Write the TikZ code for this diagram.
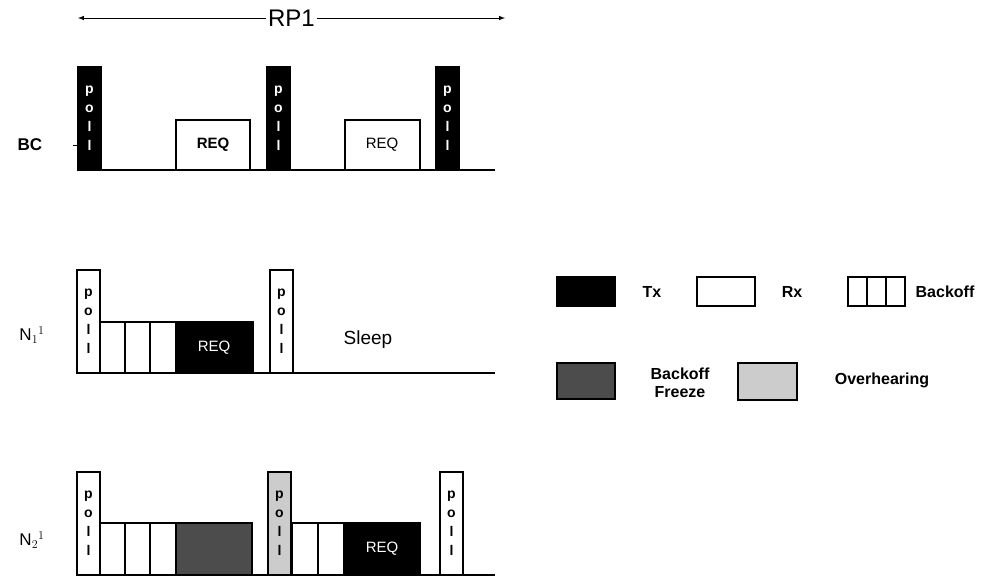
\documentclass[tikz,border=0pt]{standalone}
\usepackage{fontspec}
\setmainfont{Liberation Sans}
\begin{document}
\begin{tikzpicture}[x=1pt,y=-1pt,line width=1.2pt,
  box/.style={draw=black,line width=1.2pt},
  lbl/.style={font=\fontsize{17}{19}\selectfont},
  pl/.style={font=\fontsize{14}{14}\selectfont\bfseries,align=center,inner sep=0pt},
  leg/.style={font=\fontsize{16}{18}\selectfont\bfseries,align=center}]
\useasboundingbox (0,0) rectangle (1000,581);
\definecolor{dg}{gray}{0.3}\definecolor{lg}{gray}{0.8}
% poll macro-like via pics
\tikzset{pics/poll/.style n args={2}{code={
  \filldraw[box,fill=#1] (0,0) rectangle (23,-103);
  \node[pl,text=#2] at (11.5,-52) {p\\[5pt]o\\[5pt]l\\[5pt]l};}}}
% RP1
\coordinate (ra) at (78,18); \coordinate (rb) at (505,18);
\draw[<->,>=latex,line width=1pt] (ra) -- node[fill=white,font=\fontsize{24}{26}\selectfont,inner sep=2pt]{RP1} (rb);
% BC
\node[font=\fontsize{17}{19}\selectfont\bfseries] (bc) at (30,145) {BC};
\draw[line width=0.8pt] (73,145) -- (78,145);
\draw (100,170) -- (495,170);
\pic at (78,170) {poll={black}{white}};
\pic at (267,170) {poll={black}{white}};
\pic at (436,170) {poll={black}{white}};
\draw[box,fill=white] (176,120) rectangle (250,170);
\node[font=\fontsize{15}{17}\selectfont\bfseries] (r1) at (213,145) {REQ};
\draw[box,fill=white] (345,120) rectangle (420,170);
\node[font=\fontsize{15}{17}\selectfont] (r2) at (382,145) {REQ};
% N1
\node[lbl] (n1) at (32,335) {N$_1$$^1$};
\draw (100,373) -- (495,373);
\pic at (77,373) {poll={white}{black}};
\foreach \a in {100,125,150} \draw[box] (\a,322) rectangle (\a+25.3,373);
\filldraw[box,fill=black] (176,322) rectangle (253,373);
\node[font=\fontsize{15}{17}\selectfont,text=white] (r3) at (214,348) {REQ};
\pic at (270,373) {poll={white}{black}};
\node[font=\fontsize{19}{21}\selectfont] (sl) at (368,340) {Sleep};
% N2
\node[lbl] (n2) at (32,540) {N$_2$$^1$};
\draw (100,575) -- (495,575);
\pic at (77,575) {poll={white}{black}};
\foreach \a in {100,125,150} \draw[box] (\a,523) rectangle (\a+25.3,575);
\filldraw[box,fill=dg] (176,523) rectangle (252,575);
\pic at (268,575) {poll={lg}{black}};
\foreach \a in {292,318} \draw[box] (\a,523) rectangle (\a+26,575);
\filldraw[box,fill=black] (344,523) rectangle (420,575);
\node[font=\fontsize{15}{17}\selectfont,text=white] (r4) at (382,549) {REQ};
\pic at (440,575) {poll={white}{black}};
% legend
\filldraw[box,fill=black] (557,277) rectangle (615,306);
\node[leg] (tx) at (652,292) {Tx};
\draw[box,fill=white] (697,277) rectangle (755,306);
\node[leg] (rx) at (792,292) {Rx};
\foreach \a in {848,867,886} \draw[box] (\a,277) rectangle (\a+19,306);
\node[leg] (bo) at (945,292) {Backoff};
\filldraw[box,fill=dg] (557,363) rectangle (615,399);
\node[leg] (bf) at (680,383) {Backoff\\Freeze};
\filldraw[box,fill=lg] (738,363) rectangle (797,400);
\node[leg] (ov) at (882,380) {Overhearing};
\end{tikzpicture}
\end{document}
